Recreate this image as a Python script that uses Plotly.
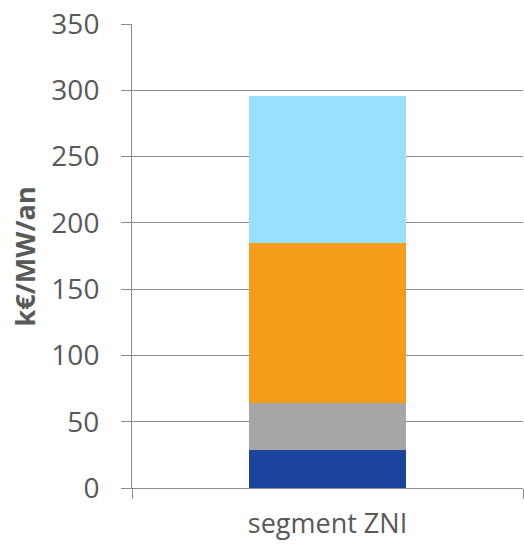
import plotly.graph_objects as go

categories = ["segment ZNI"]
series_names = ["Composante 1", "Composante 2", "Composante 3", "Composante 4"]
series_values = [[29], [35], [121], [111]]
series_colors = ["#1C449C", "#A6A6A6", "#F59C1A", "#99E0FD"]
y_ticks = [0, 50, 100, 150, 200, 250, 300, 350]

fig = go.Figure()
for name, vals, col in zip(series_names, series_values, series_colors):
    fig.add_trace(go.Bar(
        x=categories, y=vals, name=name,
        marker=dict(color=col, line=dict(width=0)),
        width=0.404,
    ))

axis_grey = "#8C8C8C"
text_grey = "#595959"

fig.update_layout(
    barmode="stack",
    width=524, height=545,
    margin=dict(l=132, r=1, t=24, b=57),
    paper_bgcolor="white", plot_bgcolor="white",
    showlegend=False,
    font=dict(family="Open Sans", color=text_grey),
)
fig.update_xaxes(
    type="category", range=[-0.5, 0.5], automargin=False,
    showline=True, linecolor=axis_grey, linewidth=1,
    ticks="outside", tickson="boundaries", ticklen=10, tickcolor=axis_grey,
    tickfont=dict(size=27, color=text_grey), ticklabelstandoff=12,
    showgrid=False,
)
fig.update_yaxes(
    range=[0, 350], tickvals=y_ticks, automargin=False,
    showline=True, linecolor=axis_grey, linewidth=1,
    ticks="outside", ticklen=10, tickcolor=axis_grey,
    tickfont=dict(size=28, color=text_grey), ticklabelstandoff=16,
    showgrid=True, gridcolor=axis_grey, gridwidth=1,
    zeroline=False,
)

# Rotated axis title placed in paper space so the plot area stays fixed
fig.add_annotation(
    text="<b>k€/MW/an</b>", textangle=-90,
    xref="paper", yref="paper", x=-0.275, y=0.5, xanchor="center", yanchor="middle",
    showarrow=False, font=dict(size=27, color=text_grey),
)

fig.write_html("out.html")
